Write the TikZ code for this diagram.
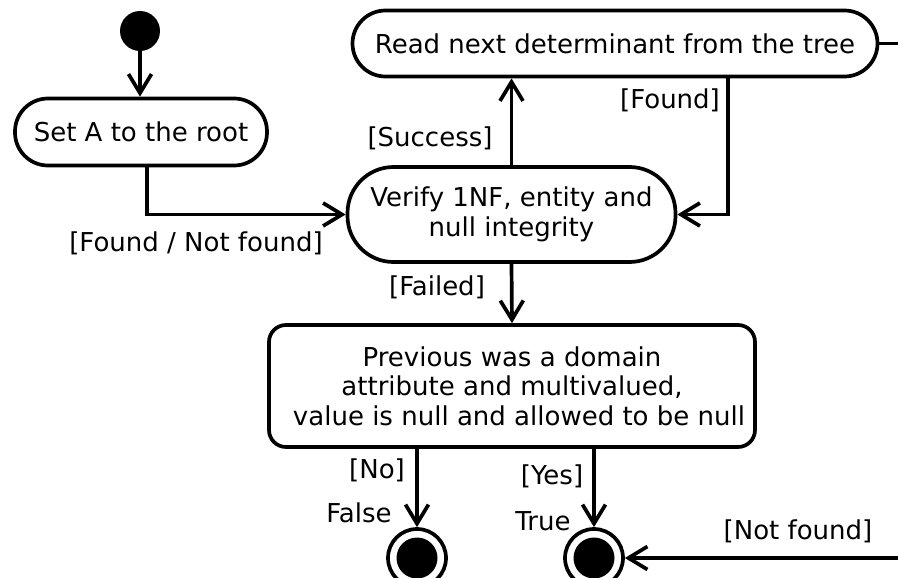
\documentclass[tikz,border=0pt]{standalone}
\usepackage{fontspec}
\setmainfont{DejaVu Sans}
\usetikzlibrary{arrows.meta,calc}
\begin{document}
\begin{tikzpicture}[x=1pt,y=-1pt,
  every node/.style={font=\fontsize{26}{29.5}\selectfont},
  line/.style={line width=3.7pt, draw=black},
  arr/.style={line, -{Straight Barb[length=19pt,width=23pt,line width=3.7pt]}},
  act/.style={draw=black, line width=3.7pt, fill=white, inner sep=0pt, align=center},
  initstate/.style={circle, fill=black, minimum size=40pt, inner sep=0pt},
  endstate/.style={circle, draw=black, line width=3.7pt, minimum size=58pt, inner sep=0pt,
     path picture={\fill[black] (path picture bounding box.center) circle (20.5pt);}},
  lbl/.style={inner sep=0pt}
]
\useasboundingbox (0,0) rectangle (898,578);

\node[initstate] (start) at (140,31) {};
\node[act, minimum width=252pt, minimum height=67pt, rounded corners=33pt] (setA) at (141,132) {Set A to the root};
\node[act, minimum width=328pt, minimum height=95pt, rounded corners=46pt] (verify) at (511.5,214.5) {Verify 1NF, entity and\\null integrity};
\node[act, minimum width=525pt, minimum height=66pt, rounded corners=33pt] (read) at (615,43.5) {Read next determinant from the tree};
\node[act, minimum width=486pt, minimum height=122pt, rounded corners=17pt] (prev) at (512,386) {Previous was a domain\\attribute and multivalued,\\\hspace*{14pt}value is null and allowed to be null};
\node[endstate] (endF) at (417,558) {};
\node[endstate] (endT) at (594,558) {};
\coordinate (offR) at (898,43.5);
\coordinate (offNF) at (898,558);

\draw[arr] (start) -- (start |- setA.north);
\draw[arr] ([xshift=6pt]setA.south) |- (verify.west);
\draw[arr] (verify.north) -- (verify.north |- read.south);
\draw[arr] ([xshift=113pt]read.south) |- (verify.east);
\draw[line] (read.east) -- (offR);
\draw[arr] (verify.south) -- (prev.north);
\draw[arr] (prev.south -| endF) -- (endF.north);
\draw[arr] (prev.south -| endT) -- (endT.north);
\draw[arr] (offNF) -- (endT.east);

\node[lbl] (lFNF) at (196,243) {[Found / Not found]};
\node[lbl] (lSucc) at (430,138) {[Success]};
\node[lbl] (lFound) at (670,100) {[Found]};
\node[lbl] (lFail) at (437,287) {[Failed]};
\node[lbl] (lNo) at (377,470) {[No]};
\node[lbl] (lFalse) at (359,513) {False};
\node[lbl] (lYes) at (552,476) {[Yes]};
\node[lbl] (lTrue) at (543,521) {True};
\node[lbl] (lNF) at (798,531) {[Not found]};
\end{tikzpicture}
\end{document}
